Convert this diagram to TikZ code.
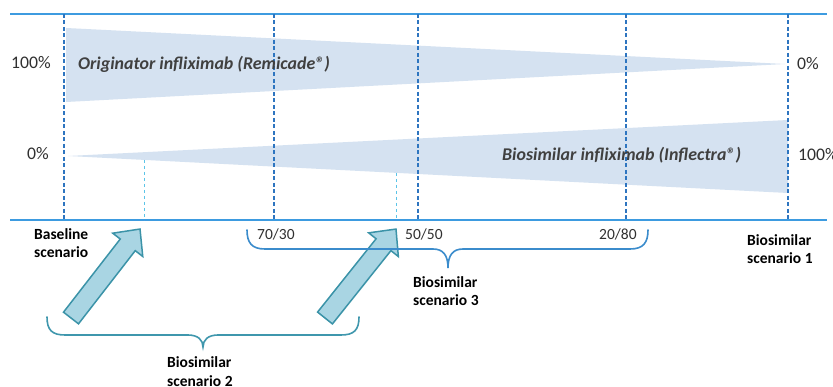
\documentclass[tikz,border=0pt]{standalone}
\usepackage{fontspec}
\setmainfont{Carlito}
\definecolor{axisblue}{HTML}{3D9BE0}
\definecolor{dashblue}{HTML}{2E75C0}
\definecolor{lightdash}{HTML}{5BC4E8}
\definecolor{wedgefill}{HTML}{D5E2F1}
\definecolor{arrowfill}{HTML}{A9D5E3}
\definecolor{arrowline}{HTML}{3B93A8}
\definecolor{braceteal}{HTML}{3F97AD}
\definecolor{braceblue}{HTML}{3B8CCC}
\definecolor{txtdark}{HTML}{303030}
\definecolor{txtgray}{HTML}{404040}
\tikzset{
  axis/.style={axisblue, line width=1.2pt},
  vdash/.style={dashblue, line width=1.8pt, dash pattern=on 4pt off 2.5pt},
  ldash/.style={lightdash, line width=1pt, dash pattern=on 3pt off 3pt},
  wedge/.style={fill=wedgefill},
  blockarrow/.style={fill=arrowfill, draw=arrowline, line width=1.5pt, line join=miter},
  bracestyle/.style={line width=1.6pt, line cap=round},
  pct/.style={inner sep=0pt, text=txtdark, font=\fontsize{17.7}{21}\selectfont},
  drug/.style={inner sep=0pt, text=txtgray, font=\fontsize{17.9}{21}\selectfont\bfseries\itshape, anchor=base west},
  lab/.style={inner sep=0pt, text=black, font=\fontsize{15.5}{18.5}\selectfont\bfseries, anchor=base west, align=left},
  ratio/.style={inner sep=0pt, text=txtdark, font=\fontsize{15.5}{18.5}\selectfont, anchor=base west},
}
\begin{document}
\begin{tikzpicture}[x=1pt,y=-1pt]
\useasboundingbox (0,0) rectangle (833,387);
\fill[white] (0,0) rectangle (833,387);

% wedges
\fill[wedge] (66,28) -- (785,64) -- (66,102) -- cycle;
\fill[wedge] (68,156) -- (788,120) -- (788,193) -- cycle;

% horizontal axes
\coordinate (tl) at (10,14); \coordinate (tr) at (827,14);
\coordinate (bl) at (10,220); \coordinate (br) at (827,220);
\draw[axis] (tl) -- (tr);
\draw[axis] (bl) -- (br);

% dashed verticals
\foreach \x/\n in {64/a,274/b,418/c,626/d,788/e}{
  \coordinate (v\n t) at (\x,14);
  \coordinate (v\n b) at (\x,220);
  \draw[vdash] (v\n t) -- (v\n b);
}
\coordinate (la t) at (144,160); \coordinate (la b) at (144,220);
\coordinate (lb t) at (396,173); \coordinate (lb b) at (396,220);
\draw[ldash] (la t) -- (la b);
\draw[ldash] (lb t) -- (lb b);

% block arrows
\begin{scope}[shift={(71,318)}, rotate=52.2]
  \draw[blockarrow] (0,-9.5) -- (92.6,-9.5) -- (92.6,-19) -- (112.6,0) -- (92.6,19) -- (92.6,9.5) -- (0,9.5) -- cycle;
\end{scope}
\begin{scope}[shift={(325,318)}, rotate=51.4]
  \draw[blockarrow] (0,-9.5) -- (93.8,-9.5) -- (93.8,-19) -- (113.8,0) -- (93.8,19) -- (93.8,9.5) -- (0,9.5) -- cycle;
\end{scope}

% braces
\draw[bracestyle, braceblue] (247,230) .. controls (247,243) and (252,249) .. (265,249) -- (433,249)
  .. controls (443,249) and (448,255) .. (448,268) .. controls (448,255) and (453,249) .. (463,249)
  -- (630,249) .. controls (643,249) and (648,243) .. (648,230);
\draw[bracestyle, braceteal] (47,317) .. controls (47,330) and (52,335) .. (65,335) -- (188,335)
  .. controls (198,335) and (203,340) .. (203,347) .. controls (203,340) and (208,335) .. (218,335)
  -- (341,335) .. controls (354,335) and (359,330) .. (359,317);

% percentages
\node[pct] (p100l) at (31,63) {100\%};
\node[pct] (p0l) at (38,154) {0\%};
\node[pct] (p0r) at (808,64) {0\%};
\node[pct, anchor=west] (p100r) at (798,155) {100\%};

% drug labels
\node[drug] (orig) at (78,70) {Originator infliximab (Remicade®)};
\node[drug] (bios) at (502,161) {Biosimilar infliximab (Inflectra®)};

% bottom labels (base anchor = baseline of last line)
\node[lab] (base) at (34,258) {Baseline\\scenario};
\node[ratio] (r7030) at (257,240) {70/30};
\node[ratio] (r5050) at (405,240) {50/50};
\node[ratio] (r2080) at (599,240) {20/80};
\node[lab] (bs1) at (747,264) {Biosimilar\\scenario 1};
\node[lab] (bs3) at (413,306) {Biosimilar\\scenario 3};
\node[lab] (bs2) at (167,386) {Biosimilar\\scenario 2};
\end{tikzpicture}
\end{document}
